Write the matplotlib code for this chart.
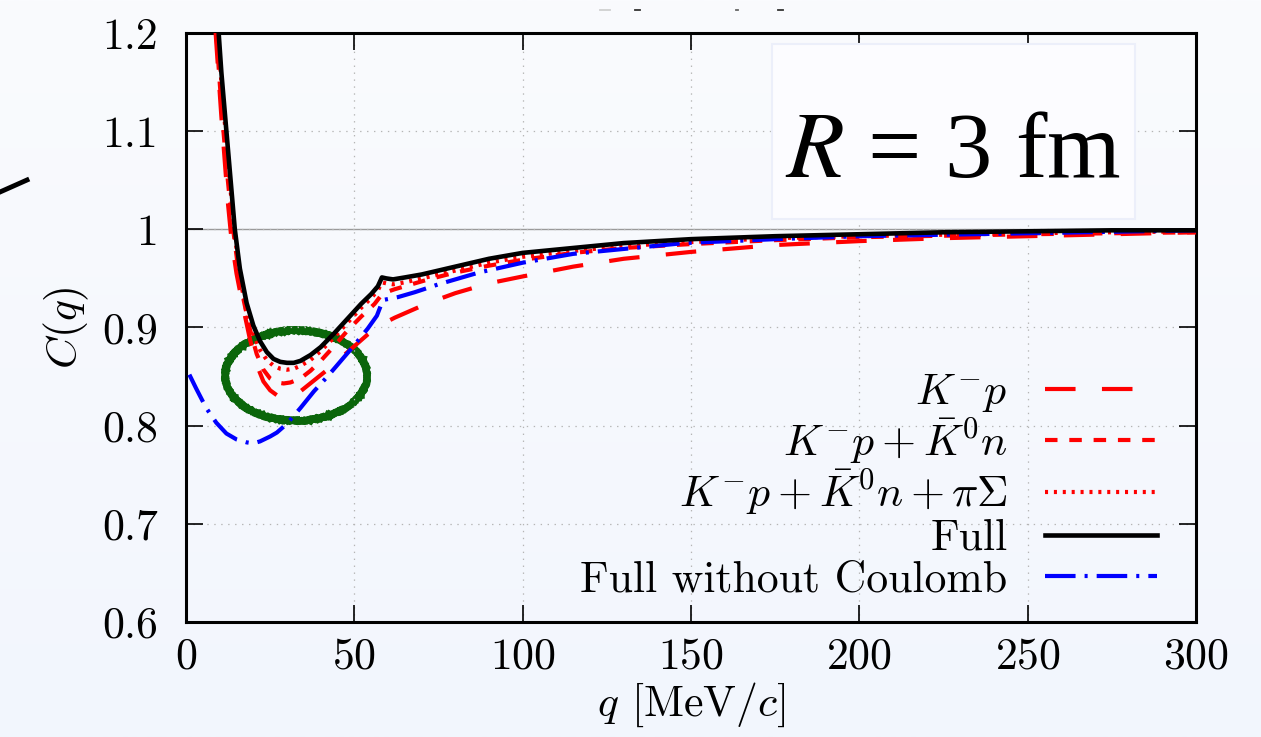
import numpy as np
import matplotlib
matplotlib.use("Agg")
import matplotlib.pyplot as plt
from matplotlib.patches import Ellipse, Rectangle
from matplotlib.lines import Line2D
from matplotlib.ticker import MultipleLocator, FuncFormatter

plt.rcParams.update({
    "font.family": "cmr10",
    "mathtext.fontset": "cm",
    "axes.unicode_minus": False,
    "axes.formatter.use_mathtext": True,
    "font.size": 31.5,
    "lines.scale_dashes": False,
})

# correlation functions C(q), q in MeV/c
q_kp = [8.8, 9.5, 10.5, 11.5, 12.5, 13.5, 15, 17, 19, 21, 23, 25, 27, 29, 31, 34,
        38, 42, 46, 50, 54, 58, 62, 66, 72, 80, 90, 100, 115, 130, 150, 175, 200,
        225, 250, 275, 300]
c_kp = [1.2, 1.165, 1.115, 1.07, 1.025, 0.99, 0.955, 0.92, 0.888, 0.862, 0.845,
        0.836, 0.831, 0.829, 0.830, 0.835, 0.846, 0.857, 0.869, 0.881, 0.893,
        0.903, 0.910, 0.916, 0.925, 0.935, 0.945, 0.952, 0.962, 0.970, 0.977,
        0.984, 0.988, 0.991, 0.993, 0.995, 0.997]

q_kpkn = [9, 10, 11, 12, 13, 14, 15.5, 17, 19, 21, 23, 25, 27, 29, 31, 34, 37, 40,
          44, 48, 52, 56, 57.8, 59.5, 62, 66, 72, 80, 90, 100, 115, 130, 150, 175,
          200, 250, 300]
c_kpkn = [1.2, 1.15, 1.105, 1.065, 1.03, 1.0, 0.96, 0.93, 0.898, 0.873, 0.857,
          0.848, 0.844, 0.843, 0.844, 0.848, 0.856, 0.866, 0.881, 0.897, 0.911,
          0.924, 0.932, 0.936, 0.939, 0.943, 0.949, 0.956, 0.963, 0.969, 0.976,
          0.981, 0.985, 0.989, 0.992, 0.995, 0.997]

q_pisig = [9.5, 10.5, 11.5, 12.5, 13.5, 14.5, 16, 18, 20, 22, 24, 26, 28, 30, 32,
           34, 37, 40, 44, 48, 52, 55, 57, 58.2, 59.5, 61.5, 65, 70, 80, 90, 100,
           115, 130, 150, 175, 200, 250, 300]
c_pisig = [1.2, 1.15, 1.11, 1.07, 1.03, 0.995, 0.952, 0.915, 0.893, 0.877, 0.867,
           0.861, 0.858, 0.857, 0.858, 0.861, 0.867, 0.876, 0.890, 0.905, 0.920,
           0.930, 0.938, 0.946, 0.945, 0.944, 0.946, 0.950, 0.958, 0.966, 0.972,
           0.978, 0.983, 0.987, 0.991, 0.993, 0.996, 0.998]

q_full = [9.7, 10.5, 11.5, 12.5, 13.5, 14.5, 16, 18, 20, 22, 24, 26, 28, 30, 32, 34,
          37, 40, 44, 48, 52, 55, 57, 58.2, 59.5, 61.5, 65, 70, 80, 90, 100, 115,
          130, 150, 175, 200, 225, 250, 275, 300]
c_full = [1.2, 1.16, 1.12, 1.08, 1.04, 1.0, 0.96, 0.925, 0.902, 0.886, 0.875,
          0.868, 0.865, 0.864, 0.864, 0.866, 0.872, 0.880, 0.894, 0.909, 0.924,
          0.934, 0.942, 0.951, 0.950, 0.949, 0.951, 0.954, 0.962, 0.970, 0.976,
          0.981, 0.986, 0.990, 0.993, 0.995, 0.997, 0.998, 0.999, 0.999]

q_nocoul = [1, 3, 6, 9, 12, 15, 18, 20, 22, 25, 27, 30, 34, 38, 42, 46, 50, 54,
            56.7, 58.5, 60, 63, 68, 75, 87, 100, 115, 130, 148, 175, 200, 250, 300]
c_nocoul = [0.852, 0.838, 0.818, 0.803, 0.792, 0.786, 0.783, 0.782, 0.784, 0.789,
            0.793, 0.802, 0.818, 0.835, 0.850, 0.866, 0.882, 0.899, 0.912, 0.928,
            0.929, 0.931, 0.936, 0.944, 0.956, 0.966, 0.975, 0.980, 0.986, 0.990,
            0.993, 0.996, 0.999]

W, H = 1261, 737
fig = plt.figure(figsize=(W / 100, H / 100), dpi=100)

# pale slide background
bg = fig.add_axes([0, 0, 1, 1], zorder=-10)
grad = np.linspace(0, 1, 256)[:, None]
top = np.array([250, 251, 254]) / 255
bot = np.array([242, 246, 253]) / 255
bg.imshow(top + (bot - top) * grad[:, :, None], aspect="auto", extent=[0, 1, 0, 1])
bg.axis("off")

ax = fig.add_axes([186 / W, 1 - 622 / H, 1010 / W, 589 / H])
ax.set_facecolor("none")

ax.axhline(1.0, color="#9a9a9a", lw=1.0, zorder=1)

# hand-drawn highlight ring around the minimum
for w, h, lwr in [(42.2, 0.092, 5.5), (41.2, 0.088, 2.5), (43.2, 0.096, 2.5)]:
    ring = Ellipse((32.7, 0.851), w, h, fill=False, ec="#0b660b", lw=lwr, zorder=1.5)
    ring.set_sketch_params(scale=0.6, length=3, randomness=8)
    ax.add_patch(ring)

lw = 3.0
ax.plot(q_kp, c_kp, color="#ff0000", lw=lw, dashes=(22, 19), label=r"$K^{-}p$", zorder=3)
ax.plot(q_kpkn, c_kpkn, color="#ff0000", lw=lw, dashes=(9, 8.5),
        label=r"$K^{-}p+\bar{K}^{0}n$", zorder=3)
ax.plot(q_pisig, c_pisig, color="#ff0000", lw=lw, dashes=(2.2, 4.2),
        label=r"$K^{-}p+\bar{K}^{0}n+\pi\Sigma$", zorder=3)
ax.plot(q_full, c_full, color="black", lw=3.3, label="Full", zorder=4)
ax.plot(q_nocoul, c_nocoul, color="#0000ff", lw=lw, dashes=(22, 6.5, 2.2, 6.5),
        label="Full without Coulomb", zorder=3.5)

ax.set_xlim(0, 300)
ax.set_ylim(0.6, 1.2)
ax.xaxis.set_major_locator(MultipleLocator(50))
ax.yaxis.set_major_locator(MultipleLocator(0.1))
ax.yaxis.set_major_formatter(FuncFormatter(lambda v, p: f"{v:g}"))
ax.tick_params(direction="in", top=True, right=True, length=12, width=1.2,
               labelsize=31.5)
ax.tick_params(axis="y", pad=20)
ax.tick_params(axis="x", pad=11)
for s in ax.spines.values():
    s.set_linewidth(2.2)
ax.grid(True, ls=(0, (1, 4)), color="#b5b5b5", lw=0.9, zorder=0)

ax.set_xlabel(r"$q$ [MeV/$c$]", labelpad=2)
ax.set_ylabel(r"$C(q)$", labelpad=8)

ax.legend(loc="lower right", bbox_to_anchor=(0.961, 0.037), markerfirst=False,
          frameon=False, handlelength=2.56, handletextpad=0.85, labelspacing=0.03,
          borderpad=0, borderaxespad=0, fontsize=31.5)

# radius tag box
fig.add_artist(Rectangle((772 / W, 1 - 219 / H), 363 / W, 175 / H,
                         transform=fig.transFigure, fc="#fcfcff", ec="#eceffa",
                         lw=1.5, zorder=5))
fig.text(953 / W, 1 - 177 / H, r"$R$ = 3 fm", family="Liberation Serif",
         math_fontfamily="stix", fontsize=68, ha="center", va="baseline", zorder=6)

# pen stroke at the left edge and clipped text remnants at the top
fig.add_artist(Line2D([0, 27 / W], [1 - 192 / H, 1 - 180 / H],
                      transform=fig.transFigure, color="black", lw=3.5))
for x0, x1, c in [(600, 610, "#d0d0d0"), (635, 640, "#333333"),
                  (736, 738, "#666666"), (778, 783, "#333333")]:
    fig.add_artist(Line2D([x0 / W, x1 / W], [1 - 10 / H, 1 - 10 / H],
                          transform=fig.transFigure, color=c, lw=1.3))

fig.savefig("out.png", dpi=100)
